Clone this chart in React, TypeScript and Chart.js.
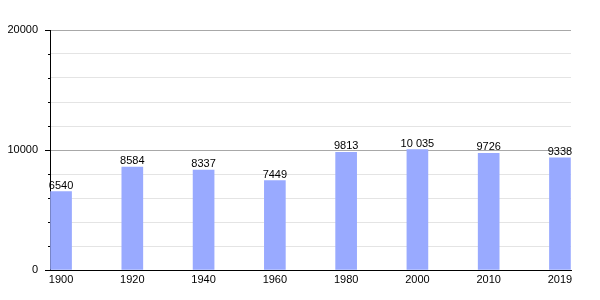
import React, { useEffect, useRef } from "react";
import { Chart, registerables } from "chart.js";

Chart.register(...registerables);

const years: string[] = ["1900", "1920", "1940", "1960", "1980", "2000", "2010", "2019"];
const population: number[] = [6540, 8584, 8337, 7449, 9813, 10035, 9726, 9338];
const yTickValues: number[] = [0, 2000, 4000, 6000, 8000, 10000, 12000, 14000, 16000, 18000, 20000];
const yLabelValues: number[] = [0, 10000, 20000];

const FONT = "'Liberation Sans', Arial, sans-serif";

function fmt(n: number): string {
  const s = String(n);
  return n >= 10000 ? s.replace(/\B(?=(\d{3})+(?!\d))/g, " ") : s;
}

const valueLabels = {
  id: "valueLabels",
  afterDatasetsDraw(chart: any) {
    const ctx = chart.ctx;
    const meta = chart.getDatasetMeta(0);
    ctx.save();
    ctx.font = `11px ${FONT}`;
    ctx.fillStyle = "#000";
    ctx.textAlign = "center";
    ctx.textBaseline = "alphabetic";
    meta.data.forEach((bar: any, i: number) => {
      ctx.fillText(fmt(population[i]), bar.x, bar.y - 3);
    });
    ctx.restore();
  },
};

const yTicks = {
  id: "yTicks",
  afterDraw(chart: any) {
    const ctx = chart.ctx;
    const ys = chart.scales.y;
    const left = chart.chartArea.left;
    ctx.save();
    ctx.strokeStyle = "#000";
    ctx.lineWidth = 1;
    yTickValues.forEach((v) => {
      const y = Math.round(ys.getPixelForValue(v)) + 0.5;
      const len = yLabelValues.includes(v) ? 5 : 2;
      ctx.beginPath();
      ctx.moveTo(left - len, y);
      ctx.lineTo(left, y);
      ctx.stroke();
    });
    ctx.restore();
  },
};

export default function App() {
  const ref = useRef<HTMLCanvasElement>(null);
  useEffect(() => {
    if (!ref.current) return;
    const chart = new Chart(ref.current, {
      type: "bar",
      data: {
        datasets: [
          {
            data: population.map((v, i) => ({ x: i, y: v })),
            backgroundColor: "#99aaff",
            borderWidth: 0,
            barThickness: 21,
          },
        ],
      },
      options: {
        animation: false,
        responsive: false,
        layout: { padding: { left: 0, right: 29, top: 30, bottom: 0 } },
        plugins: { legend: { display: false }, tooltip: { enabled: false } },
        scales: {
          x: {
            type: "linear",
            offset: false,
            min: -0.155,
            max: 7.155,
            afterBuildTicks: (scale: any) => {
              scale.ticks = years.map((_, i) => ({ value: i }));
            },
            afterFit: (scale: any) => {
              scale.height = 30;
            },
            grid: { display: false, drawTicks: false },
            border: { color: "#000", width: 1 },
            ticks: {
              autoSkip: false,
              maxRotation: 0,
              padding: 3,
              color: "#000",
              font: { family: FONT, size: 11 },
              callback: (v: any) => years[v as number] ?? "",
            },
          },
          y: {
            min: 0,
            max: 20000,
            afterBuildTicks: (scale: any) => {
              scale.ticks = yTickValues.map((v) => ({ value: v }));
            },
            afterFit: (scale: any) => {
              scale.width = 50;
            },
            grid: {
              drawTicks: false,
              color: (c: any) =>
                c.tick && c.tick.value % 10000 === 0 ? "#a8a8a8" : "#e4e4e4",
            },
            border: { color: "#000", width: 1 },
            ticks: {
              padding: 12,
              color: "#000",
              font: { family: FONT, size: 11 },
              callback: (v: any) => (yLabelValues.includes(v as number) ? String(v) : ""),
            },
          },
        },
      },
      plugins: [valueLabels, yTicks],
    });
    return () => chart.destroy();
  }, []);
  return (
    <div style={{ position: "absolute", left: 0, top: 0, width: 600, height: 300, background: "#fff" }}>
      <canvas ref={ref} width={600} height={300} />
    </div>
  );
}
